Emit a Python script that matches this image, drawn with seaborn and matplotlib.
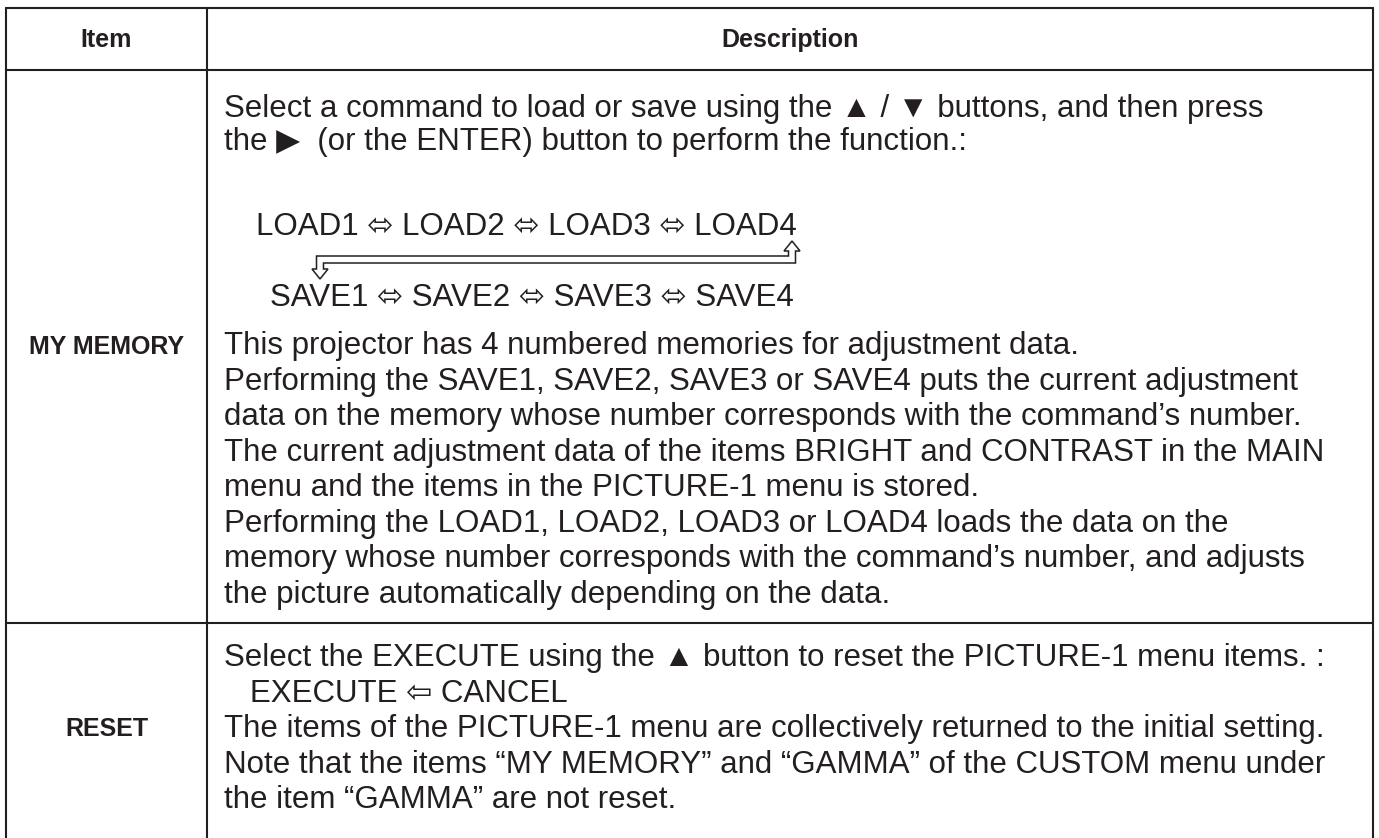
import matplotlib
matplotlib.use("Agg")
import matplotlib.pyplot as plt
import seaborn as sns
from matplotlib.patches import Polygon

sns.set_theme(style="white")
plt.rcParams['font.family'] = ['Liberation Sans', 'DejaVu Sans']

# table content
headers = ["Item", "Description"]
items = ["MY MEMORY", "RESET"]

memory_intro = [
    "Select a command to load or save using the \u25B2 / \u25BC buttons, and then press",
    "the \u25B6  (or the ENTER) button to perform the function.:",
]
load_cycle = "LOAD1 \u2B04 LOAD2 \u2B04 LOAD3 \u2B04 LOAD4"
save_cycle = "SAVE1 \u2B04 SAVE2 \u2B04 SAVE3 \u2B04 SAVE4"
memory_text = [
    "This projector has 4 numbered memories for adjustment data.",
    "Performing the SAVE1, SAVE2, SAVE3 or SAVE4 puts the current adjustment",
    "data on the memory whose number corresponds with the command\u2019s number.",
    "The current adjustment data of the items BRIGHT and CONTRAST in the MAIN",
    "menu and the items in the PICTURE-1 menu is stored.",
    "Performing the LOAD1, LOAD2, LOAD3 or LOAD4 loads the data on the",
    "memory whose number corresponds with the command\u2019s number, and adjusts",
    "the picture automatically depending on the data.",
]
reset_text = [
    "Select the EXECUTE using the \u25B2 button to reset the PICTURE-1 menu items. :",
    "   EXECUTE \u21E6 CANCEL",
    "The items of the PICTURE-1 menu are collectively returned to the initial setting.",
    "Note that the items \u201cMY MEMORY\u201d and \u201cGAMMA\u201d of the CUSTOM menu under",
    "the item \u201cGAMMA\u201d are not reset.",
]

W, H = 1379, 838
ink = "#231f20"

fig = plt.figure(figsize=(W / 100, H / 100), dpi=100)
ax = fig.add_axes([0, 0, 1, 1])
ax.set_xlim(0, W)
ax.set_ylim(H, 0)
ax.axis("off")

# fit body font so the longest line spans the cell like the original
probe = ax.text(0, 0, memory_text[1], fontsize=20)
fig.canvas.draw()
w = probe.get_window_extent().width
probe.remove()
fs = 20 * 1075 / w
bfs = 18

# grid
left, mid, right = 6, 207, 1373
top, hline, row1 = 8, 70, 623
lw = 1.5
ax.plot([left, right], [top, top], color=ink, lw=lw)
ax.plot([left, right], [hline, hline], color=ink, lw=lw)
ax.plot([left, right], [row1, row1], color=ink, lw=lw)
for x in (left, mid, right):
    ax.plot([x, x], [top, H], color=ink, lw=lw)

# header
ax.text((left + mid) / 2, 40, headers[0], ha="center", va="center",
        fontsize=bfs, fontweight="bold", color=ink)
ax.text((mid + right) / 2, 40, headers[1], ha="center", va="center",
        fontsize=bfs, fontweight="bold", color=ink)

# item labels
ax.text((left + mid) / 2, 347, items[0], ha="center", va="center",
        fontsize=bfs, fontweight="bold", color=ink)
ax.text((left + mid) / 2, 729, items[1], ha="center", va="center",
        fontsize=bfs, fontweight="bold", color=ink)

tx = 224
def block(lines, y0, pitch, x=tx):
    for i, s in enumerate(lines):
        ax.text(x, y0 + i * pitch, s, ha="left", va="center",
                fontsize=fs, color=ink)

block(memory_intro, 109, 33)
block([load_cycle], 227, 0, x=256)
block([save_cycle], 298, 0, x=270)
block(memory_text, 346, 35.5)
block(reset_text, 658, 35.5)

# hollow connector arrow LOAD4 -> SAVE1
ux, dx = 792, 320
t, b0, b1, d0 = 241, 256, 263, 269
sw, hw, hl = 3.5, 8, 10
pts = [
    (ux, t), (ux + hw, t + hl), (ux + sw, t + hl), (ux + sw, b1),
    (dx + sw, b1), (dx + sw, d0), (dx + hw, d0), (dx, d0 + hl),
    (dx - hw, d0), (dx - sw, d0), (dx - sw, b0), (ux - sw, b0),
    (ux - sw, t + hl), (ux - hw, t + hl),
]
ax.add_patch(Polygon(pts, closed=True, facecolor="white", edgecolor=ink, lw=1.1))

fig.savefig("out.png", dpi=100, facecolor="white")
